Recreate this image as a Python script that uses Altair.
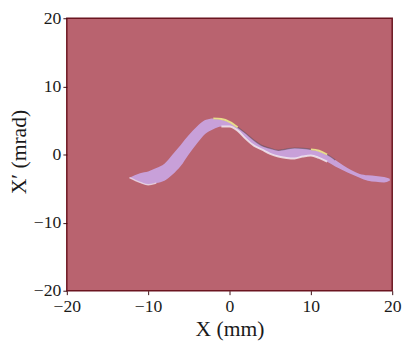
import altair as alt
import pandas as pd

# Band boundaries (X in mm, X' in mrad)
x_pos = [-12.3, -11, -10, -9, -8, -7, -6, -5, -4, -3, -2, -1, 0, 1, 2, 3, 4, 5, 6, 7, 8, 9,
         10, 11, 12, 13, 14, 15, 16, 17, 18, 19, 19.7]
upper = [-3.4, -2.75, -2.5, -2.0, -1.35, 0.0, 1.4, 2.85, 4.1, 5.05, 5.3, 5.2, 4.8, 4.0, 3.1,
         2.1, 1.3, 0.9, 0.6, 0.8, 0.95, 0.9, 0.75, 0.55, 0.0, -0.8, -1.6, -2.3, -2.85, -3.05,
         -3.15, -3.3, -3.55]
lower = [-3.4, -4.1, -4.45, -4.2, -3.85, -2.95, -1.7, 0.05, 1.6, 3.0, 3.7, 4.1, 4.1, 3.5, 2.3,
         1.3, 0.7, 0.1, -0.3, -0.5, -0.58, -0.3, -0.15, -0.5, -1.05, -1.75, -2.35, -2.9, -3.4,
         -3.85, -4.0, -4.1, -3.85]

ticks = [-20, -10, 0, 10, 20]

df = pd.DataFrame({"x": x_pos, "up": upper, "lo": lower})

xs = alt.Scale(domain=[-20, 20], nice=False, zero=False)
ys = alt.Scale(domain=[-20, 20], nice=False, zero=False)

common = dict(values=ticks, grid=False, domain=False, tickSize=4, tickColor="#3a0a10",
              labelFont="Liberation Serif", labelFontSize=18, labelColor="#1a1a1a",
              labelFlush=False, titleFont="Liberation Serif", titleFontSize=22,
              titleFontWeight="normal", titleColor="#1a1a1a")

xaxis = alt.Axis(labelPadding=3, title="X (mm)", titleX=166, titleY=29,
                 titleBaseline="top", **common)
yaxis = alt.Axis(labelPadding=2, title="X′ (mrad)", titleX=-37, titleY=136,
                 titleAngle=-90, titleBaseline="bottom", titleAlign="center", **common)

base = alt.Chart(df)

band = base.mark_area(color="#c8a2dd", opacity=0.97, interpolate="monotone").encode(
    x=alt.X("x:Q", scale=xs, axis=xaxis),
    y=alt.Y("up:Q", scale=ys, axis=yaxis),
    y2="lo:Q",
)

shadow = base.transform_filter("datum.x >= -2 && datum.x <= 13").mark_line(
    color="#5a4a5a", strokeWidth=1.2, opacity=0.55, interpolate="monotone").encode(
    x="x:Q", y="up:Q")

highlight = base.transform_filter("datum.x >= -1 && datum.x <= 12").mark_line(
    color="#f4eef4", strokeWidth=2, opacity=0.8, interpolate="monotone").encode(
    x="x:Q", y="lo:Q")

tip = base.transform_filter("datum.x <= -9").mark_line(
    color="#eedde8", strokeWidth=1.5, opacity=0.8, interpolate="monotone").encode(
    x="x:Q", y="lo:Q")

yellow1 = base.transform_filter("datum.x >= -2 && datum.x <= 1").mark_line(
    color="#e8dc8a", strokeWidth=2, interpolate="monotone").encode(x="x:Q", y="up:Q")
yellow2 = base.transform_filter("datum.x >= 10 && datum.x <= 12").mark_line(
    color="#e8dc8a", strokeWidth=2, interpolate="monotone").encode(x="x:Q", y="up:Q")

chart = alt.layer(band, shadow, highlight, tip, yellow1, yellow2).properties(
    width=332, height=278,
    autosize=alt.AutoSizeParams(type="none"),
    padding={"left": 60, "top": 7, "right": 11, "bottom": 57},
).configure_view(fill="#b9636f", stroke="#6b1520", strokeWidth=1.5)

chart.save("out.html", embed_options={"renderer": "svg", "actions": False})
